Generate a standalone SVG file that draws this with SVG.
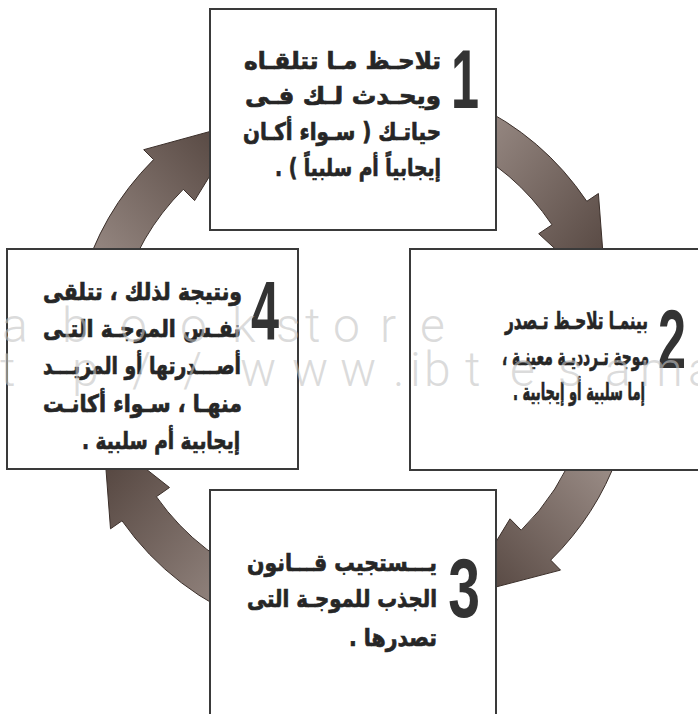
<svg xmlns="http://www.w3.org/2000/svg" width="698" height="714" viewBox="0 0 698 714">
<style>
.box{fill:#fff;stroke:#3a3a3a;stroke-width:2}
.ar{font-family:"DejaVu Sans","Noto Sans",sans-serif;font-weight:bold;font-size:24px;fill:#262626;stroke:#262626;stroke-width:0.7}
.num{font-family:"Liberation Sans",Arial,sans-serif;font-weight:bold;font-size:84px;fill:#333}
.wm{font-family:Roboto,Lato,"Liberation Sans",sans-serif;font-weight:300;font-size:48px;fill:#c4c4c4;fill-opacity:0.6}
.arrow{stroke:#3b2f2a;stroke-width:1}
</style>
<defs>
<linearGradient id="g1" x1="0" y1="0" x2="1" y2="1"><stop offset="0" stop-color="#a3958f"/><stop offset="1" stop-color="#4f403a"/></linearGradient>
<linearGradient id="g2" x1="1" y1="0" x2="0" y2="1"><stop offset="0" stop-color="#a3958f"/><stop offset="1" stop-color="#4f403a"/></linearGradient>
<linearGradient id="g3" x1="1" y1="1" x2="0" y2="0"><stop offset="0" stop-color="#a3958f"/><stop offset="1" stop-color="#4f403a"/></linearGradient>
<linearGradient id="g4" x1="0" y1="1" x2="1" y2="0"><stop offset="0" stop-color="#a3958f"/><stop offset="1" stop-color="#4f403a"/></linearGradient>
</defs>
<g id="connectors">
<path class="arrow" fill="url(#g1)" d="M472.2,103.4 A282,282 0 0 1 586.8,201.3 L598.4,193.5 L606.2,295.9 L538.7,233.7 L552.0,224.8 A240,240 0 0 0 454.4,141.5 Z"/>
<path class="arrow" fill="url(#g2)" d="M618.0,455.4 A282,282 0 0 1 550.7,560.1 L560.5,570.1 L463.3,595.5 L510.0,518.8 L521.2,530.2 A240,240 0 0 0 578.5,441.1 Z"/>
<path class="arrow" fill="url(#g3)" d="M256.6,624.0 A282,282 0 0 1 122.0,520.8 L110.5,528.8 L103.4,435.3 L169.5,487.5 L156.4,496.7 A240,240 0 0 0 270.9,584.5 Z"/>
<path class="arrow" fill="url(#g4)" d="M80.6,286.0 A282,282 0 0 1 153.6,159.6 L143.7,149.7 L242.7,122.5 L194.6,200.6 L183.3,189.3 A240,240 0 0 0 121.2,296.9 Z"/>
</g>
<g id="node1">
<rect class="box" x="210" y="9" width="286" height="221"/>
<text class="num" transform="translate(479 108) scale(0.6 1)" text-anchor="end">1</text>
<text class="ar" direction="rtl" x="441" y="69" textLength="197" lengthAdjust="spacingAndGlyphs">تلاحـظ مـا تتلقـاه</text>
<text class="ar" direction="rtl" x="441" y="104" textLength="196" lengthAdjust="spacingAndGlyphs">ويحـدث لـك فـى</text>
<text class="ar" direction="rtl" x="441" y="140" textLength="198" lengthAdjust="spacingAndGlyphs">حياتـك ( سـواء أكـان</text>
<text class="ar" direction="rtl" x="441" y="176" textLength="166" lengthAdjust="spacingAndGlyphs">إيجابياً أم سلبياً ) .</text>
</g>
<g id="node2">
<rect class="box" x="410" y="249" width="290" height="221"/>
<text class="num" transform="translate(686 368) scale(0.6 1)" text-anchor="end">2</text>
<text class="ar" direction="rtl" x="648" y="329" textLength="143" lengthAdjust="spacingAndGlyphs">بينمـا تلاحـظ تـصدر</text>
<text class="ar" direction="rtl" x="649" y="365" textLength="147" lengthAdjust="spacingAndGlyphs">موجة تـردديـة معينـة ،</text>
<text class="ar" direction="rtl" x="645" y="400" textLength="132" lengthAdjust="spacingAndGlyphs">إما سلبية أو إيجابية .</text>
</g>
<g id="node3">
<rect class="box" x="210" y="490" width="286" height="240"/>
<text class="num" transform="translate(480 617) scale(0.68 1)" text-anchor="end">3</text>
<text class="ar" direction="rtl" x="437" y="571" textLength="190" lengthAdjust="spacingAndGlyphs">يـــستجيب قـــانون</text>
<text class="ar" direction="rtl" x="437" y="607" textLength="190" lengthAdjust="spacingAndGlyphs">الجذب للموجـة التى</text>
<text class="ar" direction="rtl" x="437" y="646" textLength="88" lengthAdjust="spacingAndGlyphs">تصدرها .</text>
</g>
<g id="node4">
<rect class="box" x="7" y="249" width="291" height="220"/>
<text class="num" transform="translate(279 340) scale(0.6 1)" text-anchor="end">4</text>
<text class="ar" direction="rtl" x="242" y="300" textLength="199" lengthAdjust="spacingAndGlyphs">ونتيجة لذلك ، تتلقى</text>
<text class="ar" direction="rtl" x="241" y="337" textLength="198" lengthAdjust="spacingAndGlyphs">نفـس الموجـة التـى</text>
<text class="ar" direction="rtl" x="241" y="374" textLength="198" lengthAdjust="spacingAndGlyphs">أصـــدرتها أو المزيـــد</text>
<text class="ar" direction="rtl" x="242" y="412" textLength="199" lengthAdjust="spacingAndGlyphs">منهـا ، سـواء أكانـت</text>
<text class="ar" direction="rtl" x="240" y="449" textLength="158" lengthAdjust="spacingAndGlyphs">إيجابية أم سلبية .</text>
</g>
<g id="watermark">
<text class="wm" x="2 62 120 180 232 276 305 333 380 420" y="342">abookstore</text>
<text class="wm" x="0 72 132 183 240 292 340 393 410 424 465 510 558 605 640 688" y="386">tp//www.ibtesama</text>
</g>
</svg>
